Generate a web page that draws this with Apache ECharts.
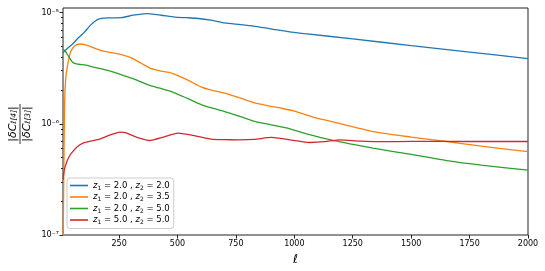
<!DOCTYPE html>
<html>
<head>
<meta charset="utf-8">
<script src="https://cdn.jsdelivr.net/npm/echarts@6/dist/echarts.min.js"></script>
<style>html,body{margin:0;padding:0;background:#fff}#c{width:545px;height:271px}</style>
</head>
<body>
<div id="c"></div>
<script>
// ---- data ----
const seriesNames = ['z1=2.0,z2=2.0', 'z1=2.0,z2=3.5', 'z1=2.0,z2=5.0', 'z1=5.0,z2=5.0'];
const z1List = ['2.0', '2.0', '2.0', '5.0'];
const z2List = ['2.0', '3.5', '5.0', '5.0'];
const colors = ['#1f77b4', '#ff7f0e', '#2ca02c', '#d62728'];

const ellA = [10, 30, 50, 75, 100, 130, 160, 200, 260, 310, 367, 430, 488, 540, 580, 650, 702, 770, 831, 900, 981, 1045, 1250, 1500, 1750, 2000];
const valA = [4.34e-6, 4.8e-6, 5.2e-6, 5.9e-6, 6.6e-6, 7.8e-6, 8.7e-6, 8.95e-6, 9.0e-6, 9.47e-6, 9.8e-6, 9.47e-6, 9.1e-6, 9.0e-6, 8.9e-6, 8.5e-6, 8.07e-6, 7.8e-6, 7.53e-6, 7.15e-6, 6.7e-6, 6.47e-6, 5.8e-6, 5.05e-6, 4.42e-6, 3.85e-6];

const ellB = [10, 13, 17, 22, 29, 38, 46, 60, 81, 110, 150, 188, 260, 303, 345, 388, 430, 474, 540, 603, 650, 702, 770, 831, 890, 945, 1000, 1080, 1200, 1337, 1500, 1652, 1800, 2000];
const valB = [6e-8, 3e-7, 1.6e-6, 2.6e-6, 3.3e-6, 4.1e-6, 4.6e-6, 5.0e-6, 5.22e-6, 5.1e-6, 4.75e-6, 4.48e-6, 4.19e-6, 3.91e-6, 3.5e-6, 3.13e-6, 2.98e-6, 2.86e-6, 2.5e-6, 2.14e-6, 2.0e-6, 1.89e-6, 1.7e-6, 1.54e-6, 1.45e-6, 1.38e-6, 1.3e-6, 1.15e-6, 1.0e-6, 8.5e-7, 7.6e-7, 6.93e-7, 6.3e-7, 5.62e-7];

const ellC = [10, 20, 35, 50, 67, 90, 117, 150, 188, 230, 274, 320, 374, 420, 474, 540, 603, 650, 702, 770, 831, 900, 974, 1045, 1166, 1337, 1500, 1652, 1800, 2000];
const valC = [4.71e-6, 4.5e-6, 4.0e-6, 3.6e-6, 3.45e-6, 3.4e-6, 3.33e-6, 3.2e-6, 3.07e-6, 2.9e-6, 2.7e-6, 2.5e-6, 2.24e-6, 2.1e-6, 1.95e-6, 1.7e-6, 1.48e-6, 1.38e-6, 1.29e-6, 1.16e-6, 1.05e-6, 9.8e-7, 9.1e-7, 8.2e-7, 7.08e-7, 6.04e-7, 5.3e-7, 4.67e-7, 4.25e-7, 3.83e-7];

const ellD = [10, 15, 24, 35, 46, 70, 96, 130, 167, 210, 253, 280, 324, 381, 440, 502, 560, 645, 700, 759, 830, 902, 981, 1066, 1130, 1195, 1280, 1380, 1500, 1750, 2000];
const valD = [3.13e-7, 3.8e-7, 4.43e-7, 5.0e-7, 5.44e-7, 6.2e-7, 6.7e-7, 7.0e-7, 7.28e-7, 7.9e-7, 8.41e-7, 8.3e-7, 7.6e-7, 7.08e-7, 7.6e-7, 8.24e-7, 7.9e-7, 7.28e-7, 7.2e-7, 7.18e-7, 7.25e-7, 7.54e-7, 7.18e-7, 6.79e-7, 6.9e-7, 7.18e-7, 7.0e-7, 6.9e-7, 6.95e-7, 6.93e-7, 6.93e-7];

const xTicks = [250, 500, 750, 1000, 1250, 1500, 1750, 2000];
const yMajor = [1e-7, 1e-6, 1e-5];
const yMajorLabels = ['10⁻⁷', '10⁻⁶', '10⁻⁵'];
const yMinor = [2e-7, 3e-7, 4e-7, 5e-7, 6e-7, 7e-7, 8e-7, 9e-7, 2e-6, 3e-6, 4e-6, 5e-6, 6e-6, 7e-6, 8e-6, 9e-6];
const X_MIN = 10, X_MAX = 2000, Y_MIN = 1e-7, Y_MAX = 1.1e-5;

// ---- chart ----
const ells = [ellA, ellB, ellC, ellD];
const vals = [valA, valB, valC, valD];
const FONT = 'DejaVu Sans';
const chart = echarts.init(document.getElementById('c'), null, {renderer: 'canvas'});

const series = seriesNames.map((n, i) => ({
  name: n,
  type: 'line',
  data: ells[i].map((l, k) => [l, vals[i][k]]),
  showSymbol: false,
  smooth: 0.2,
  clip: true,
  lineStyle: {width: 1.3, color: colors[i]},
  itemStyle: {color: colors[i]},
  yAxisIndex: 0
}));

chart.setOption({
  animation: false,
  grid: {left: 63, right: 17, top: 8, bottom: 36, show: true, borderColor: '#222', borderWidth: 1, backgroundColor: 'transparent'},
  xAxis: {
    type: 'value', min: X_MIN, max: X_MAX,
    name: 'ℓ', nameLocation: 'middle', nameGap: 19,
    nameTextStyle: {fontFamily: FONT, fontStyle: 'italic', fontSize: 12, color: '#000'},
    axisLine: {show: false},
    axisTick: {show: true, length: 3.5, customValues: xTicks, lineStyle: {color: '#222'}},
    axisLabel: {customValues: xTicks, fontFamily: FONT, fontSize: 8, color: '#000', margin: 5, formatter: v => String(v)},
    splitLine: {show: false}
  },
  yAxis: [{
    type: 'log', logBase: 10, min: Y_MIN, max: Y_MAX,
    axisLine: {show: false},
    axisTick: {show: true, length: 3.5, customValues: yMajor, lineStyle: {color: '#222'}},
    axisLabel: {customValues: yMajor, fontFamily: FONT, fontSize: 8, color: '#000', margin: 4,
      formatter: v => yMajorLabels[yMajor.findIndex(m => Math.abs(Math.log10(m) - Math.log10(v)) < 1e-6)] || ''},
    splitLine: {show: false}
  }, {
    type: 'log', logBase: 10, min: Y_MIN, max: Y_MAX, position: 'left',
    axisLine: {show: false},
    axisTick: {show: true, length: 2, customValues: yMinor, lineStyle: {color: '#222'}},
    axisLabel: {show: false},
    splitLine: {show: false}
  }],
  legend: {
    left: 67, top: 178, orient: 'vertical', icon: 'rect', itemWidth: 18, itemHeight: 1.6, itemGap: 1.5,
    padding: [3, 4, 3, 3], borderColor: '#ccc', borderWidth: 1, borderRadius: 3, backgroundColor: 'rgba(255,255,255,0.85)',
    data: seriesNames,
    textStyle: {fontFamily: FONT, fontSize: 8.5, color: '#000',
      rich: {
        i: {fontFamily: FONT, fontStyle: 'italic', fontSize: 8.5, lineHeight: 11, color: '#000'},
        s: {fontFamily: FONT, fontSize: 6, lineHeight: 11, verticalAlign: 'bottom', color: '#000'},
        t: {fontFamily: FONT, fontSize: 8.5, lineHeight: 11, color: '#000'}
      }},
    formatter: name => {
      const i = seriesNames.indexOf(name);
      return '{i|z}{s|1}{t| = ' + z1List[i] + ' , }{i|z}{s|2}{t| = ' + z2List[i] + '}';
    }
  },
  graphic: [{
    type: 'group', x: 20, y: 124, rotation: Math.PI / 2,
    children: [
      {type: 'text', x: 0, y: -7, style: {text: '{n||δC}{s|ℓ[4]}{n||}', align: 'center', verticalAlign: 'middle',
        rich: {n: {fontFamily: FONT, fontSize: 11, fontStyle: 'italic', fill: '#000'}, s: {fontFamily: FONT, fontSize: 7.5, fontStyle: 'italic', fill: '#000', verticalAlign: 'bottom'}}}},
      {type: 'line', shape: {x1: -20, y1: 0, x2: 20, y2: 0}, style: {stroke: '#000', lineWidth: 0.8}},
      {type: 'text', x: 0, y: 7, style: {text: '{n||δC}{s|ℓ[3]}{n||}', align: 'center', verticalAlign: 'middle',
        rich: {n: {fontFamily: FONT, fontSize: 11, fontStyle: 'italic', fill: '#000'}, s: {fontFamily: FONT, fontSize: 7.5, fontStyle: 'italic', fill: '#000', verticalAlign: 'bottom'}}}}
    ]
  }],
  series: series
});
</script>
</body>
</html>
